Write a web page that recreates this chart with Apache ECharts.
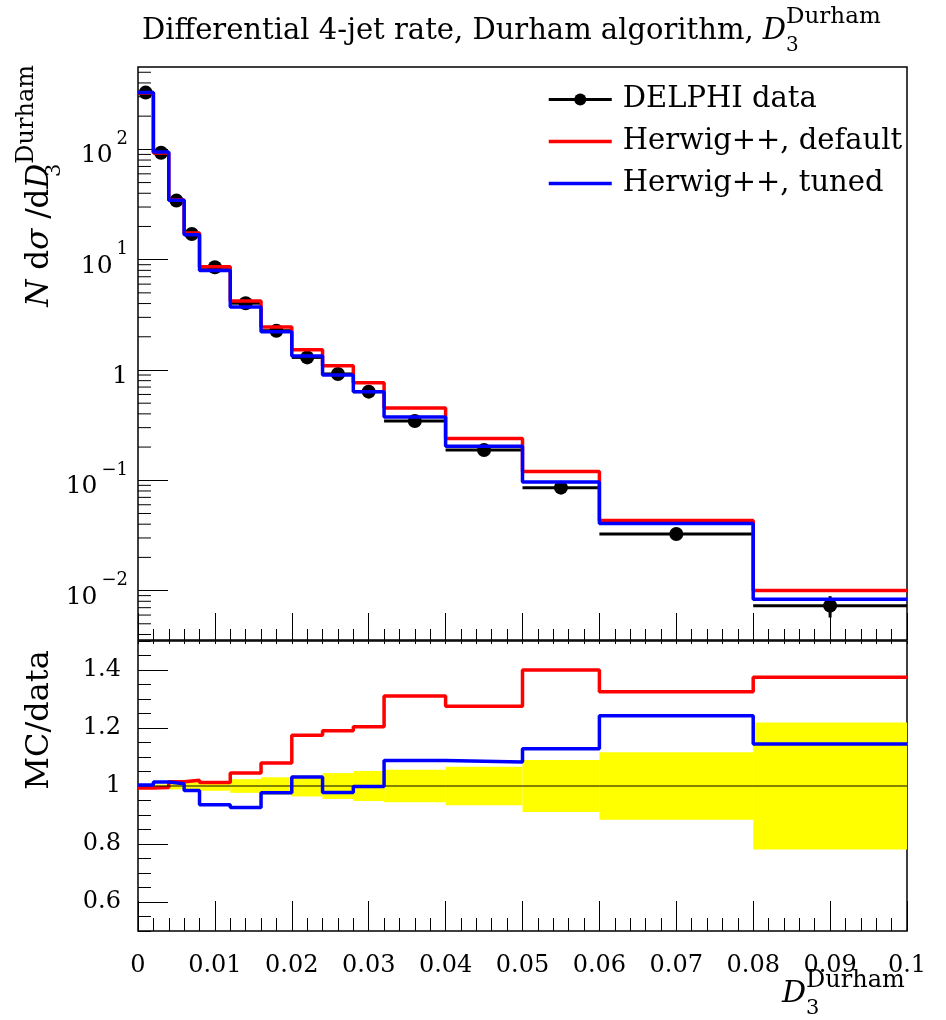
<!DOCTYPE html>
<html><head><meta charset="utf-8">
<script src="https://cdn.jsdelivr.net/npm/echarts@6/dist/echarts.min.js"></script>
<style>html,body{margin:0;padding:0;background:#fff}#c{width:946px;height:1020px}</style>
</head><body><div id="c"></div>
<script>
// ---- data ----
const binEdges = [0, 0.002, 0.004, 0.006, 0.008, 0.012, 0.016, 0.020, 0.024, 0.028, 0.032, 0.040, 0.050, 0.060, 0.080, 0.100];
const dataValues = [327, 93.3, 34.3, 17.1, 8.53, 4.03, 2.27, 1.30, 0.92, 0.636, 0.345, 0.188, 0.0857, 0.0326, 0.0073];
const dataErrors = [1.1, 0.5, 0.41, 0.22, 0.14, 0.095, 0.068, 0.047, 0.041, 0.033, 0.0193, 0.0124, 0.0077, 0.0038, 0.0016];
const herwigDefault = [324.7, 92.8, 34.8, 17.44, 8.63, 4.21, 2.45, 1.528, 1.095, 0.766, 0.452, 0.2397, 0.120, 0.0432, 0.01004];
const herwigTuned = [328.0, 94.6, 34.57, 16.84, 7.98, 3.73, 2.218, 1.340, 0.899, 0.635, 0.3754, 0.2036, 0.0967, 0.0405, 0.00836];
const ratioTicks = [0.6, 0.8, 1, 1.2, 1.4];
const logMinorTicks = [0.004, 0.005, 0.006, 0.007, 0.008, 0.009,
  0.02, 0.03, 0.04, 0.05, 0.06, 0.07, 0.08, 0.09,
  0.2, 0.3, 0.4, 0.5, 0.6, 0.7, 0.8, 0.9,
  2, 3, 4, 5, 6, 7, 8, 9,
  20, 30, 40, 50, 60, 70, 80, 90,
  200, 300, 400, 500];
const seriesNames = ['DELPHI data', 'Herwig++, default', 'Herwig++, tuned'];

// ---- derived structures ----
const FONT = 'DejaVu Serif';
function steps(vals) {
  const pts = [];
  vals.forEach((v, i) => { pts.push([binEdges[i], v]); pts.push([binEdges[i + 1], v]); });
  return pts;
}
const centers = dataValues.map((v, i) => [(binEdges[i] + binEdges[i + 1]) / 2, v]);
const errRows = dataValues.map((v, i) => [binEdges[i], binEdges[i + 1], v, dataErrors[i]]);
const bandRows = dataValues.map((v, i) => [binEdges[i], binEdges[i + 1], dataErrors[i] / v]);
const ratioDefault = herwigDefault.map((v, i) => v / dataValues[i]);
const ratioTuned = herwigTuned.map((v, i) => v / dataValues[i]);

function makeRich(base, sup, sub) {
  return {
    i: {fontFamily: FONT, fontStyle: 'italic', fontSize: base, lineHeight: 50, color: '#000'},
    r: {fontFamily: FONT, fontSize: base, lineHeight: 50, color: '#000'},
    sub: {fontFamily: FONT, fontSize: sub, lineHeight: sub, verticalAlign: 'bottom', width: 0, color: '#000'},
    sup: {fontFamily: FONT, fontSize: sup, lineHeight: sup + 2, verticalAlign: 'top', color: '#000'}
  };
}
const titleRich = makeRich(29, 23, 20);
const yTitleRich = makeRich(31, 24, 21);
const xTitleRich = makeRich(30, 24, 21);

const chart = echarts.init(document.getElementById('c'), null, {renderer: 'canvas'});
chart.setOption({
  animation: false,
  backgroundColor: '#fff',
  title: {
    text: 'Differential 4-jet rate, Durham algorithm, {i|D}{sub|3}{sup|Durham}',
    left: 137, top: 1,
    textStyle: {fontFamily: FONT, fontSize: 29, fontWeight: 'normal', color: '#000', lineHeight: 50, rich: titleRich}
  },
  legend: {
    orient: 'vertical', left: 547, top: 85, padding: 0,
    itemWidth: 63, itemHeight: 15, itemGap: 13,
    textStyle: {fontFamily: FONT, fontSize: 29, color: '#000', padding: [0, 0, 0, 6]},
    data: [
      {name: seriesNames[0], lineStyle: {color: '#000', width: 3, opacity: 1}},
      {name: seriesNames[1], itemStyle: {opacity: 0}, lineStyle: {color: '#ff0000', width: 3.5, opacity: 1}},
      {name: seriesNames[2], itemStyle: {opacity: 0}, lineStyle: {color: '#0000ff', width: 3.5, opacity: 1}}
    ]
  },
  grid: [
    {left: 138, top: 67, width: 769, height: 573, show: true, borderColor: '#000', borderWidth: 1.5,
     backgroundColor: 'transparent', outerBoundsMode: 'none', containLabel: false},
    {left: 138, top: 641, width: 769, height: 290, show: true, borderColor: '#000', borderWidth: 1.5,
     backgroundColor: 'transparent', outerBoundsMode: 'none', containLabel: false}
  ],
  xAxis: [
    {type: 'value', gridIndex: 0, min: 0, max: 0.1, interval: 0.01,
     axisLine: {show: false}, axisLabel: {show: false}, splitLine: {show: false},
     axisTick: {inside: true, length: 27, lineStyle: {color: '#000', width: 1}},
     minorTick: {show: true, splitNumber: 5, length: 11, lineStyle: {color: '#000', width: 1}}},
    {type: 'value', gridIndex: 1, position: 'bottom', min: 0, max: 0.1, interval: 0.01,
     axisLine: {show: false}, splitLine: {show: false},
     axisTick: {inside: true, length: 30, lineStyle: {color: '#000', width: 1}},
     minorTick: {show: true, splitNumber: 5, length: 13, lineStyle: {color: '#000', width: 1}},
     axisLabel: {show: true, margin: 23, fontFamily: FONT, fontSize: 24, color: '#000',
       formatter: v => String(+v.toFixed(3))}},
    {type: 'value', gridIndex: 1, position: 'top', min: 0, max: 0.1, interval: 0.01,
     axisLine: {show: false}, axisLabel: {show: false}, splitLine: {show: false},
     axisTick: {inside: true, length: 3, lineStyle: {color: '#000', width: 1}},
     minorTick: {show: true, splitNumber: 5, length: 3, lineStyle: {color: '#000', width: 1}}}
  ],
  yAxis: [
    {type: 'log', logBase: 10, gridIndex: 0, position: 'left', min: 0.003565, max: 558,
     axisLine: {show: false}, splitLine: {show: false},
     axisTick: {inside: true, length: 30, lineStyle: {color: '#000', width: 1}},
     axisLabel: {margin: 10, showMinLabel: false, showMaxLabel: false,
       formatter: v => {
         const k = Math.round(Math.log10(v));
         if (k === 0) return '{b|1}';
         return '{b|10}{s|' + (k < 0 ? '\u2212' + (-k) : k) + '}';
       },
       rich: {
         b: {fontFamily: FONT, fontSize: 25, lineHeight: 38, verticalAlign: 'bottom', color: '#000'},
         s: {fontFamily: FONT, fontSize: 18, lineHeight: 18, verticalAlign: 'top', color: '#000', padding: [0, 0, 0, 4]}
       }}},
    {type: 'value', gridIndex: 1, position: 'left', min: 0.5, max: 1.5, interval: 0.05,
     axisLine: {show: false}, axisLabel: {show: false}, splitLine: {show: false},
     axisTick: {inside: true, length: 13, lineStyle: {color: '#000', width: 1}}},
    {type: 'value', gridIndex: 1, position: 'left', offset: 0, min: 0.5, max: 1.5, interval: 0.1,
     axisLine: {show: false}, splitLine: {show: false},
     axisTick: {inside: true, length: 30, customValues: ratioTicks, lineStyle: {color: '#000', width: 1}},
     axisLabel: {customValues: ratioTicks, margin: 17, fontFamily: FONT, fontSize: 24, color: '#000',
       formatter: v => String(+(+v).toFixed(1))}}
  ],
  graphic: [
    {type: 'text', x: 40, y: 65, rotation: Math.PI / 2,
     style: {text: '{i|N} d{i|\u03c3} /d{i|D}{sub|3}{sup|Durham}', align: 'right', verticalAlign: 'middle',
       rich: yTitleRich, fontFamily: FONT, fontSize: 31, fill: '#000'}},
    {type: 'text', x: 40, y: 720, rotation: Math.PI / 2,
     style: {text: 'MC/data', align: 'center', verticalAlign: 'middle', fontFamily: FONT, fontSize: 32, fill: '#000'}},
    {type: 'text', x: 782, y: 994,
     style: {text: '{i|D}{sub|3}{sup|Durham}', align: 'left', verticalAlign: 'middle', rich: xTitleRich,
       fontFamily: FONT, fontSize: 30, fill: '#000'}}
  ],
  series: [
    {name: seriesNames[0], type: 'line', xAxisIndex: 0, yAxisIndex: 0, data: centers,
     symbol: 'circle', symbolSize: 14, showSymbol: true, z: 3,
     itemStyle: {color: '#000'}, lineStyle: {width: 0, opacity: 0, color: '#000'}},
    {name: seriesNames[0], type: 'custom', xAxisIndex: 0, yAxisIndex: 0, data: errRows, z: 2,
     encode: {x: [0, 1], y: 2},
     renderItem: (params, api) => {
       const lo = api.value(0), hi = api.value(1), v = api.value(2), e = api.value(3);
       const a = api.coord([lo, v]), b = api.coord([hi, v]);
       const m = (lo + hi) / 2;
       const t = api.coord([m, v + e]), d = api.coord([m, v - e]);
       return {type: 'group', children: [
         {type: 'line', shape: {x1: a[0], y1: a[1], x2: b[0], y2: b[1]}, style: {stroke: '#000', lineWidth: 3}},
         {type: 'line', shape: {x1: t[0], y1: t[1], x2: d[0], y2: d[1]}, style: {stroke: '#000', lineWidth: 3}}
       ]};
     }},
    {name: seriesNames[1], type: 'line', xAxisIndex: 0, yAxisIndex: 0, data: steps(herwigDefault),
     symbol: 'none', z: 4, color: '#ff0000', lineStyle: {color: '#ff0000', width: 3.5}},
    {name: seriesNames[2], type: 'line', xAxisIndex: 0, yAxisIndex: 0, data: steps(herwigTuned),
     symbol: 'none', z: 5, color: '#0000ff', lineStyle: {color: '#0000ff', width: 3.5}},
    {name: 'log minor ticks', type: 'custom', xAxisIndex: 0, yAxisIndex: 0, data: logMinorTicks.map(v => [0, v]),
     silent: true, z: 1, clip: false,
     renderItem: (params, api) => {
       const p = api.coord([0, api.value(1)]);
       return {type: 'line', shape: {x1: p[0], y1: p[1], x2: p[0] + 13, y2: p[1]}, style: {stroke: '#000', lineWidth: 1}};
     }},
    {name: 'data uncertainty', type: 'custom', xAxisIndex: 1, yAxisIndex: 1, data: bandRows, z: 1,
     encode: {x: [0, 1], y: 2},
     renderItem: (params, api) => {
       const lo = api.value(0), hi = api.value(1), r = api.value(2);
       const a = api.coord([lo, 1 + r]), b = api.coord([hi, 1 - r]);
       return {type: 'rect', shape: {x: a[0], y: a[1], width: b[0] - a[0], height: b[1] - a[1]}, style: {fill: '#ffff00'}};
     },
     markLine: {silent: true, symbol: 'none', label: {show: false}, animation: false,
       lineStyle: {color: '#000', width: 1.5, type: 'solid', opacity: 0.65}, data: [{yAxis: 1}]}},
    {name: seriesNames[1], type: 'line', xAxisIndex: 1, yAxisIndex: 1, data: steps(ratioDefault),
     symbol: 'none', z: 4, color: '#ff0000', lineStyle: {color: '#ff0000', width: 3.5}},
    {name: seriesNames[2], type: 'line', xAxisIndex: 1, yAxisIndex: 1, data: steps(ratioTuned),
     symbol: 'none', z: 5, color: '#0000ff', lineStyle: {color: '#0000ff', width: 3.5}}
  ]
});
</script></body></html>
